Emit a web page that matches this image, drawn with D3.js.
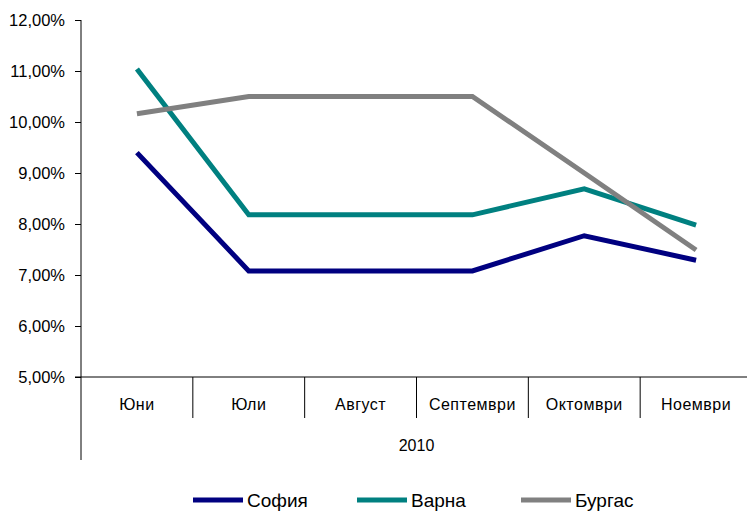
<!DOCTYPE html>
<html>
<head>
<meta charset="utf-8">
<script src="https://cdn.jsdelivr.net/npm/d3@7"></script>
<style>
  html, body { margin: 0; padding: 0; background: #fff; }
  svg { display: block; font-family: "Liberation Sans", Arial, sans-serif; }
</style>
</head>
<body>
<svg id="chart" width="747" height="511"></svg>
<script>
// Monthly rates for 2010, by city
const months = ["Юни", "Юли", "Август", "Септември", "Октомври", "Ноември"];
const year = "2010";
const sofia  = [9.40, 7.08, 7.08, 7.08, 7.77, 7.29];
const varna  = [11.04, 8.18, 8.18, 8.18, 8.69, 7.98];
const burgas = [10.16, 10.50, 10.50, 10.50, 9.00, 7.49];
const seriesNames = ["София", "Варна", "Бургас"];
const seriesColors = ["#000080", "#008080", "#808080"];
const yTicks = [5, 6, 7, 8, 9, 10, 11, 12];

const series = [sofia, varna, burgas].map((values, i) => ({
  name: seriesNames[i], color: seriesColors[i], values
}));

const svg = d3.select("#chart");
const plotLeft = 81, plotRight = 752, plotTop = 20, plotBottom = 377;

const x = d3.scaleBand().domain(months).range([plotLeft, plotRight]);
const y = d3.scaleLinear().domain([5, 12]).range([plotBottom, plotTop]);

// Y axis
const yAxis = d3.axisLeft(y)
  .tickValues(yTicks)
  .tickSize(6)
  .tickPadding(10)
  .tickFormat(d => d3.format(".2f")(d).replace(".", ",") + "%");
const gy = svg.append("g").attr("transform", `translate(${plotLeft},0)`).call(yAxis);
gy.select(".domain").remove();
gy.selectAll(".tick line").attr("stroke", "#000");
gy.selectAll(".tick text").attr("font-size", 16.5).attr("fill", "#000")
  .attr("font-family", "Liberation Sans, Arial, sans-serif");

// vertical axis line, extending down past the category labels
svg.append("line").attr("x1", plotLeft).attr("x2", plotLeft)
  .attr("y1", plotTop).attr("y2", 460).attr("stroke", "#000");

// horizontal baseline
svg.append("line").attr("x1", plotLeft - 6).attr("x2", plotRight)
  .attr("y1", plotBottom).attr("y2", plotBottom).attr("stroke", "#000");

// category dividers
svg.append("g").selectAll("line")
  .data(months.slice(1))
  .join("line")
  .attr("x1", d => x(d)).attr("x2", d => x(d))
  .attr("y1", plotBottom).attr("y2", 418)
  .attr("stroke", "#000");

// category labels
svg.append("g").selectAll("text")
  .data(months)
  .join("text")
  .attr("x", d => x(d) + x.bandwidth() / 2)
  .attr("y", 406)
  .attr("text-anchor", "middle")
  .attr("dominant-baseline", "middle")
  .attr("font-size", 16)
  .attr("letter-spacing", 0.5)
  .attr("fill", "#000")
  .text(d => d);

// group label
svg.append("text")
  .attr("x", (plotLeft + plotRight) / 2)
  .attr("y", 447)
  .attr("text-anchor", "middle")
  .attr("dominant-baseline", "middle")
  .attr("font-size", 16)
  .attr("fill", "#000")
  .text(year);

// lines
const line = d3.line()
  .x((d, i) => x(months[i]) + x.bandwidth() / 2)
  .y(d => y(d));

svg.append("g").selectAll("path")
  .data(series)
  .join("path")
  .attr("d", d => line(d.values))
  .attr("fill", "none")
  .attr("stroke", d => d.color)
  .attr("stroke-width", 5)
  .attr("stroke-linejoin", "miter");

// legend
const legend = svg.append("g").selectAll("g")
  .data(series)
  .join("g")
  .attr("transform", (d, i) => `translate(${193 + i * 164},500)`);
legend.append("line")
  .attr("x1", 0).attr("x2", 50).attr("y1", 0).attr("y2", 0)
  .attr("stroke", d => d.color).attr("stroke-width", 5);
legend.append("text")
  .attr("x", 54).attr("y", 7)
  .attr("font-size", 19)
  .attr("fill", "#000")
  .text(d => d.name);
</script>
</body>
</html>
